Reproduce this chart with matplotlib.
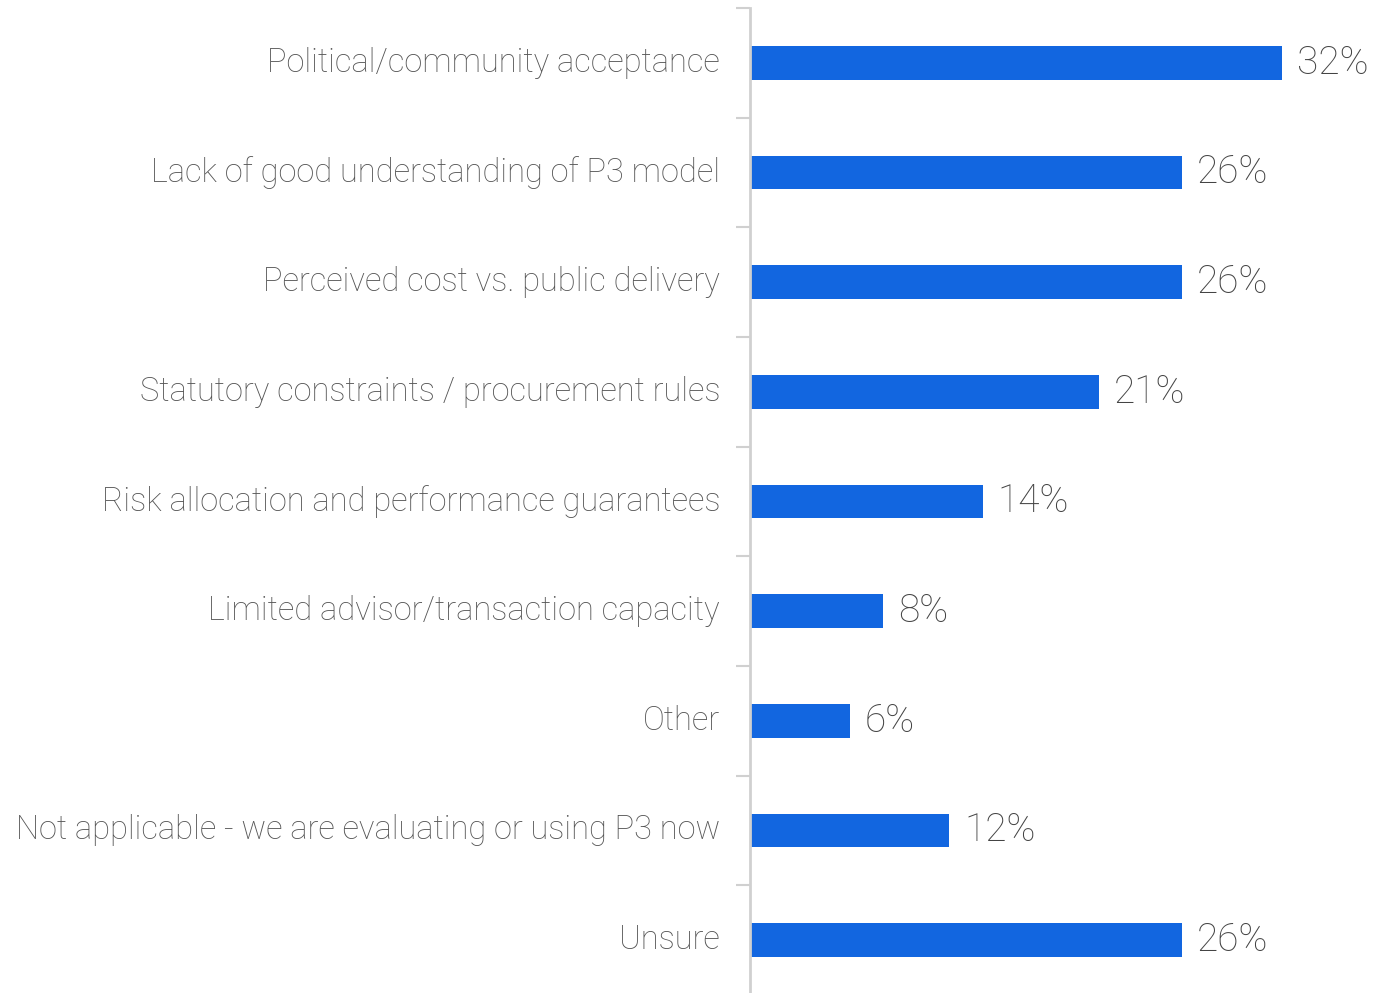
import matplotlib
matplotlib.use('Agg')
import matplotlib.pyplot as plt

categories = [
    'Political/community acceptance',
    'Lack of good understanding of P3 model',
    'Perceived cost vs. public delivery',
    'Statutory constraints / procurement rules',
    'Risk allocation and performance guarantees',
    'Limited advisor/transaction capacity',
    'Other',
    'Not applicable - we are evaluating or using P3 now',
    'Unsure',
]
values = [32, 26, 26, 21, 14, 8, 6, 12, 26]

plt.rcParams['font.family'] = ['Roboto', 'DejaVu Sans']

fig = plt.figure(figsize=(13.75, 9.93), dpi=100)
ax = fig.add_axes([750 / 1375, -2 / 993, 625 / 1375, 987 / 993])

n = len(categories)
ypos = list(range(n))
ax.barh(ypos, values, height=0.31, color='#1266e0')
ax.set_ylim(n - 0.5, -0.5)
ax.set_xlim(0, 37.6)

for y, v in zip(ypos, values):
    ax.text(v + 0.9, y, f'{v}%', va='center', ha='left', fontsize=28,
            color='#444444', fontweight='light')

for y, c in zip(ypos, categories):
    ax.text(-1.8, y, c, va='center', ha='right', fontsize=23.5,
            color='#555555', fontweight='light')

ax.set_yticks([i - 0.5 for i in range(n + 1)])
ax.set_yticklabels([])
ax.tick_params(axis='y', length=10, width=1.5, color='#d0d0d0')
ax.set_xticks([])
for s in ['top', 'right', 'bottom']:
    ax.spines[s].set_visible(False)
ax.spines['left'].set_color('#d0d0d0')
ax.spines['left'].set_linewidth(2)

fig.savefig('out.png', dpi=100)
